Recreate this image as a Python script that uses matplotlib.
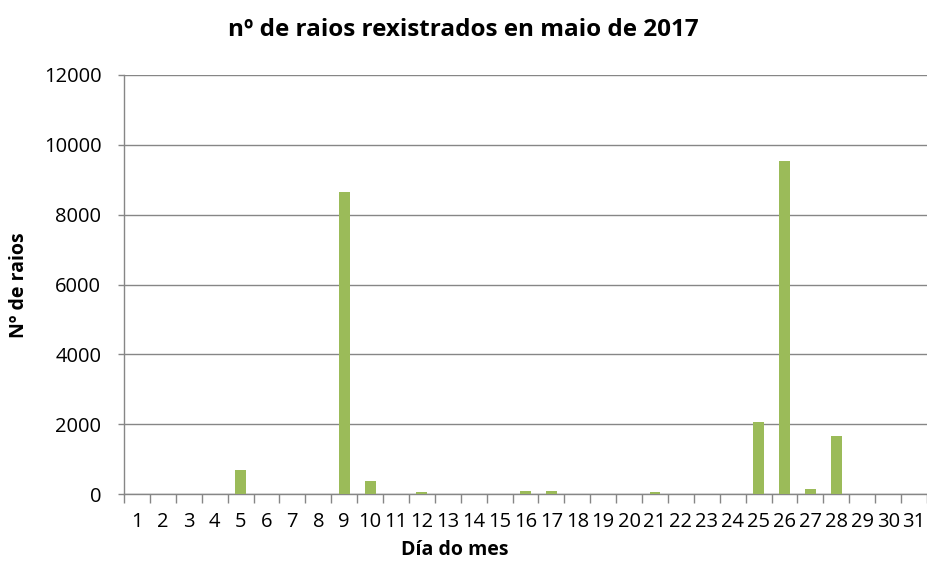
import matplotlib
matplotlib.use("Agg")
import matplotlib.pyplot as plt
from matplotlib.ticker import FixedLocator

days = [str(d) for d in range(1, 32)]
raios = [0, 0, 0, 0, 690, 0, 0, 0, 8660, 380, 0, 50, 0, 0, 0, 80, 80, 0, 0, 0,
         50, 0, 0, 0, 2060, 9540, 150, 1660, 0, 0, 0]
yticks = [0, 2000, 4000, 6000, 8000, 10000, 12000]

plt.rcParams['font.family'] = ['Open Sans', 'DejaVu Sans']

W, H = 928, 561
fig = plt.figure(figsize=(W / 100, H / 100), dpi=100)
ax = fig.add_axes([124 / W, 1 - 494 / H, (927 - 124) / W, (494 - 75) / H])

x = list(range(len(days)))
ax.bar(x, raios, width=0.42, color='#9BBB59', zorder=3)

ax.set_xlim(-0.5, len(days) - 0.5)
ax.set_ylim(0, 12000)
ax.set_yticks(yticks)
ax.set_yticklabels([str(v) for v in yticks], fontsize=14.5)
ax.set_xticks(x)
ax.set_xticklabels(days, fontsize=14.5)
ax.xaxis.set_minor_locator(FixedLocator([i - 0.5 for i in range(len(days) + 1)]))
ax.tick_params(axis='x', which='major', length=0, pad=13)
ax.tick_params(axis='x', which='minor', length=6.5, color='#868686', width=1)
ax.tick_params(axis='y', which='major', length=4.3, color='#868686', width=1, pad=12)

ax.grid(axis='y', color='#868686', linewidth=1, zorder=0)
for s in ['top', 'right']:
    ax.spines[s].set_visible(False)
for s in ['left', 'bottom']:
    ax.spines[s].set_color('#868686')
    ax.spines[s].set_linewidth(1)

fig.text(463 / W, 1 - 30 / H, 'nº de raios rexistrados en maio de 2017',
         ha='center', va='center', fontsize=17.5, fontweight='bold')
fig.text(455 / W, 1 - 550 / H, 'Día do mes', ha='center', va='center',
         fontsize=14, fontweight='bold')
fig.text(19 / W, 1 - 285 / H, 'Nº de raios', ha='center', va='center',
         rotation=90, fontsize=14, fontweight='bold')

fig.savefig('out.png', dpi=100)
